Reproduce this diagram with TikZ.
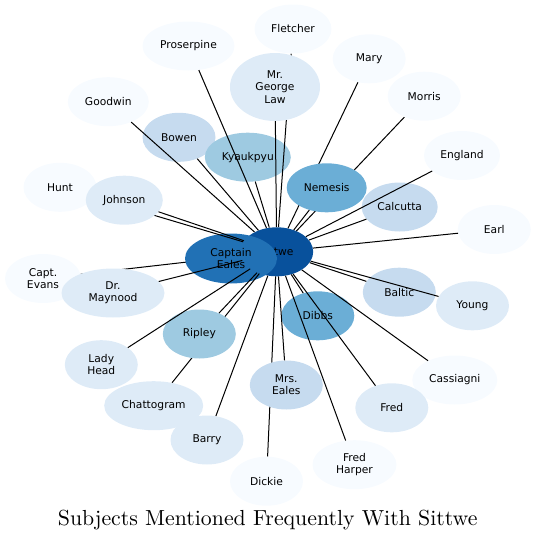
\documentclass[tikz,border=0pt]{standalone}
\usepackage{fontspec}
\newfontfamily\dejavu{DejaVu Sans}
\newfontfamily\titlefont{lmroman10-regular}[Extension=.otf]
\usetikzlibrary{shapes.geometric}

\definecolor{bluesA}{HTML}{F7FBFF}
\definecolor{bluesB}{HTML}{DEEBF7}
\definecolor{bluesC}{HTML}{C6DBEF}
\definecolor{bluesD}{HTML}{9ECAE1}
\definecolor{bluesE}{HTML}{6BAED6}
\definecolor{bluesG}{HTML}{2171B5}
\definecolor{bluesH}{HTML}{08519C}

\newcommand{\subjfont}{\dejavu\fontsize{10.7}{12.2}\selectfont}

\pgfdeclarelayer{edgelow}
\pgfdeclarelayer{core}
\pgfdeclarelayer{edgemid}
\pgfdeclarelayer{edgetop}
\pgfsetlayers{edgelow,core,edgemid,main,edgetop}

\begin{document}
\begin{tikzpicture}[
    x=1pt, y=-1pt,
    few/.style={ellipse, align=center, inner sep=0pt, minimum width=73pt, minimum height=49pt, font=\subjfont, fill=bluesA},
    pale/.style={ellipse, align=center, inner sep=0pt, minimum width=73pt, minimum height=49pt, font=\subjfont, fill=bluesB},
    some/.style={ellipse, align=center, inner sep=0pt, minimum width=73pt, minimum height=49pt, font=\subjfont, fill=bluesC},
    more/.style={ellipse, align=center, inner sep=0pt, minimum width=73pt, minimum height=49pt, font=\subjfont, fill=bluesD},
    many/.style={ellipse, align=center, inner sep=0pt, minimum width=73pt, minimum height=49pt, font=\subjfont, fill=bluesE},
    strong/.style={ellipse, align=center, inner sep=0pt, minimum width=73pt, minimum height=49pt, font=\subjfont, fill=bluesG},
    hub/.style={ellipse, align=center, inner sep=0pt, minimum width=73pt, minimum height=49pt, font=\subjfont, fill=bluesH},
    link/.style={black, line width=1pt}
]
\useasboundingbox (0,0) rectangle (536,541);

% centre and the nodes that lie under some lines
\begin{pgfonlayer}{core}
\node[hub] (sittwe) at (276.7,251.8) {Sittwe};
\node[strong, minimum width=92pt, minimum height=50pt] (eales) at (231,258.5) {Captain\\Eales};
\node[some] (bowen) at (179,137.3) {Bowen};
\node[more, minimum width=86pt] (kyaukpyu) at (247.8,157.2) {Kyaukpyu};
\end{pgfonlayer}

\node[few, minimum width=77pt] (fletcher) at (293,29) {Fletcher};
\node[few, minimum width=92pt] (proserpine) at (188.5,46) {Proserpine};
\node[pale, minimum width=90pt, minimum height=68pt] (law) at (275,87) {Mr.\\George\\Law};
\node[few] (mary) at (369.2,58.8) {Mary};
\node[few] (morris) at (424.2,96.2) {Morris};
\node[few, minimum width=81pt] (goodwin) at (108.3,101.7) {Goodwin};
\node[few, minimum width=76pt] (england) at (462,155.5) {England};
\node[few] (hunt) at (60,187.3) {Hunt};
\node[pale, minimum width=77pt] (johnson) at (124.3,200.2) {Johnson};
\node[many, minimum width=80pt] (nemesis) at (326.7,187.8) {Nemesis};
\node[some, minimum width=76pt] (calcutta) at (399.7,207) {Calcutta};
\node[few] (earl) at (494.3,229.5) {Earl};
\node[few, minimum width=76pt] (evans) at (43,278.5) {Capt.\\Evans};
\node[pale, minimum width=103pt] (maynood) at (113,293) {Dr.\\Maynood};
\node[some] (baltic) at (399.3,292.2) {Baltic};
\node[pale] (young) at (472.5,305.8) {Young};
\node[many] (dibbs) at (317.8,315.8) {Dibbs};
\node[more] (ripley) at (199.3,334) {Ripley};
\node[pale] (ladyhead) at (101.3,364.7) {Lady\\Head};
\node[some] (mrseales) at (286.3,385) {Mrs.\\Eales};
\node[few, minimum width=85pt] (cassiagni) at (454.8,380) {Cassiagni};
\node[pale] (fred) at (391.8,407.8) {Fred};
\node[pale, minimum width=99pt] (chattogram) at (153.7,405.7) {Chattogram};
\node[pale] (barry) at (207,440) {Barry};
\node[few, minimum width=84pt] (fredharper) at (354.5,464.7) {Fred\\Harper};
\node[few] (dickie) at (266.5,481.2) {Dickie};

\node[anchor=base] (title) at (267.7,525.8) {\titlefont\fontsize{21.8}{26}\selectfont Subjects Mentioned Frequently With Sittwe};

% lines hidden by the nodes in front
\begin{pgfonlayer}{edgelow}
\draw[link] (evans) -- (sittwe);
\end{pgfonlayer}
\begin{pgfonlayer}{edgemid}
\draw[link] (hunt) -- (sittwe);
\draw[link] (fletcher) -- (sittwe);
\draw[link] (mary) -- (sittwe);
\draw[link] (morris) -- (sittwe);
\draw[link] (chattogram) -- (sittwe);
\draw[link] (dickie) -- (sittwe);
\end{pgfonlayer}

% lines drawn over the nodes
\begin{pgfonlayer}{edgetop}
\draw[link] (goodwin) -- (sittwe);
\draw[link] (proserpine) -- (sittwe);
\draw[link] (bowen) -- (sittwe);
\draw[link] (kyaukpyu) -- (sittwe);
\draw[link] (law) -- (sittwe);
\draw[link] (nemesis) -- (sittwe);
\draw[link] (calcutta) -- (sittwe);
\draw[link] (england) -- (sittwe);
\draw[link] (earl) -- (sittwe);
\draw[link] (baltic) -- (sittwe);
\draw[link] (young) -- (sittwe);
\draw[link] (dibbs) -- (sittwe);
\draw[link] (cassiagni) -- (sittwe);
\draw[link] (fred) -- (sittwe);
\draw[link] (fredharper) -- (sittwe);
\draw[link] (mrseales) -- (sittwe);
\draw[link] (barry) -- (sittwe);
\draw[link] (ripley) -- (sittwe);
\draw[link] (ladyhead) -- (sittwe);
\draw[link] (maynood) -- (sittwe);
\draw[link] (johnson) -- (sittwe);
\end{pgfonlayer}
\end{tikzpicture}
\end{document}
